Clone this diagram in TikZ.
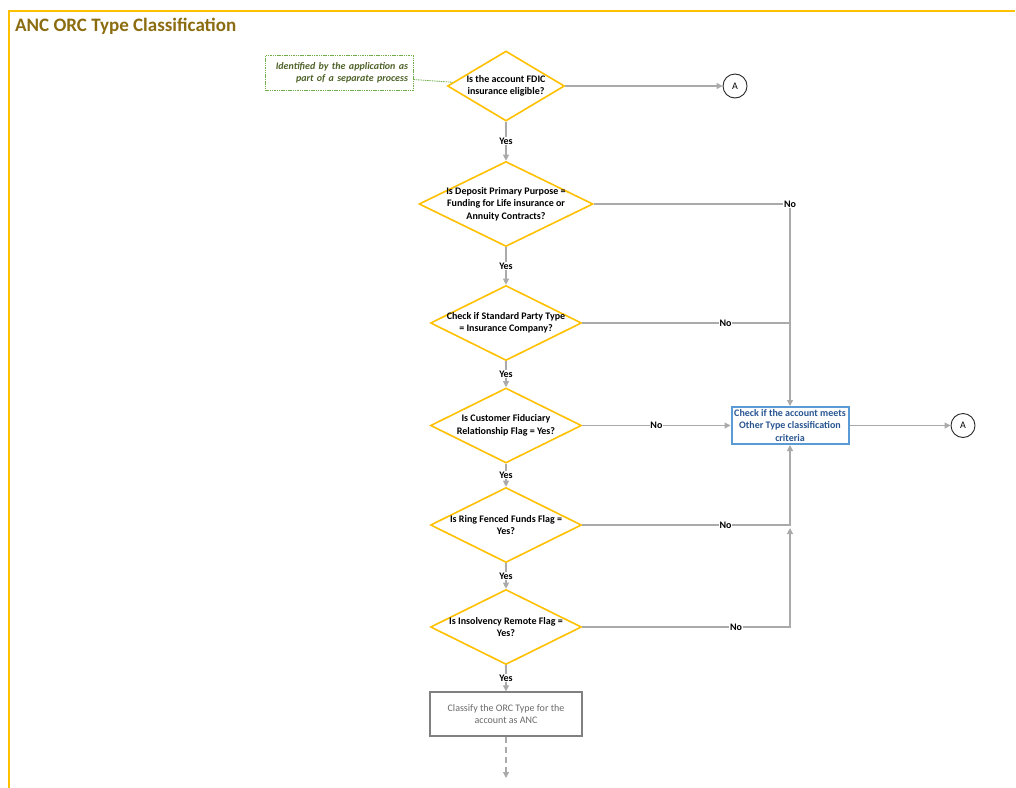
\documentclass[tikz,border=0pt]{standalone}
\usepackage{fontspec}
\setmainfont{Carlito}
\usetikzlibrary{shapes.geometric,arrows.meta,calc}

\definecolor{decyellow}{HTML}{FFC000}
\definecolor{titlegold}{RGB}{140,108,16}
\definecolor{lnkgray}{RGB}{170,170,170}
\definecolor{notegreen}{RGB}{112,173,71}
\definecolor{notetext}{RGB}{79,98,40}
\definecolor{chkborder}{RGB}{91,155,213}
\definecolor{chktext}{RGB}{40,85,145}
\definecolor{ancgray}{RGB}{128,128,128}
\definecolor{anctext}{RGB}{105,105,105}

\tikzset{
  base/.style={font=\fontsize{10}{12.4}\selectfont},
  strong/.style={font=\fontsize{10}{12.4}\selectfont\bfseries},
  dec/.style={diamond, draw=decyellow, line width=1.6pt, inner sep=0pt, fill=white},
  dtext/.style={strong, align=center, text=black},
  conn/.style={draw=lnkgray, line width=1.1pt, -{Triangle[length=6pt,width=6pt]}},
  plain/.style={draw=lnkgray, line width=1.1pt},
  lbl/.style={strong, fill=white, inner sep=0.8pt, text=black},
  conncircle/.style={circle, draw=black!85, line width=0.9pt, minimum size=24pt, inner sep=0pt, base, fill=white},
  chkbox/.style={rectangle, draw=chkborder, line width=2pt, minimum width=117pt, minimum height=37pt, inner sep=2pt, strong, align=center, text=chktext},
  ancbox/.style={rectangle, draw=ancgray, line width=1.3pt, minimum width=152pt, minimum height=44pt, inner sep=2pt, base, align=center, text=anctext},
  notebox/.style={rectangle, draw=notegreen, line width=0.8pt, dash pattern=on 1.5pt off 0.8pt, minimum width=148pt, minimum height=35pt, text width=138pt, inner xsep=5pt, align=right, font=\fontsize{10}{12.4}\selectfont\bfseries\itshape, text=notetext},
  notelink/.style={draw=notegreen, line width=0.8pt, dash pattern=on 1.5pt off 0.8pt},
  frameline/.style={draw=decyellow, line width=2pt},
  heading/.style={font=\fontsize{19}{22}\selectfont\bfseries, text=titlegold, inner sep=0pt}
}

\begin{document}
\begin{tikzpicture}[x=1pt, y=-1pt]
\useasboundingbox (0,0) rectangle (1016,787);

% page frame and heading
\draw[frameline] (9,788) -- (9,11) -- (1015,11);
\node[heading, anchor=west] (ttl) at (15,26) {ANC ORC Type Classification};

% decision chain
\node[dec, minimum width=117pt, minimum height=70pt,
      label={[dtext]center:Is the account FDIC\\insurance eligible?}] (d1) at (506,86) {};
\node[dec, minimum width=174pt, minimum height=85pt,
      label={[dtext]center:Is Deposit Primary Purpose =\\Funding for Life insurance or\\Annuity Contracts?}] (d2) at (506,204) {};
\node[dec, minimum width=151pt, minimum height=75pt,
      label={[dtext]center:Check if Standard Party Type\\= Insurance Company?}] (d3) at (506,323) {};
\node[dec, minimum width=151pt, minimum height=75pt,
      label={[dtext]center:Is Customer Fiduciary\\Relationship Flag = Yes?}] (d4) at (506,425.5) {};
\node[dec, minimum width=151pt, minimum height=75pt,
      label={[dtext]center:Is Ring Fenced Funds Flag =\\Yes?}] (d5) at (506,525) {};
\node[dec, minimum width=151pt, minimum height=75pt,
      label={[dtext]center:Is Insolvency Remote Flag =\\Yes?}] (d6) at (506,627) {};

% outcome boxes and connectors
\node[chkbox] (chk) at (790,425.5) {Check if the account meets\\Other Type classification\\criteria};
\node[ancbox] (anc) at (506,714) {Classify the ORC Type for the\\account as ANC};
\node[conncircle] (a1) at (735,86) {A};
\node[conncircle] (a2) at (963,425.5) {A};

% side note
\node[notebox] (nt) at (339,73) {Identified by the application as\\part of a separate process};
\draw[notelink] (nt.-5) -- (d1.176);

% junction points on the collector line
\coordinate (j2) at (790,204);
\coordinate (j3) at (790,323);
\coordinate (j5) at (790,525);
\coordinate (j6) at (790,627);
\coordinate (j6t) at (790,528);
\coordinate (endpt) at (506,778);

% Yes path
\draw[conn] (d1.south) -- node[lbl] (y1) {Yes} (d2.north);
\draw[conn] (d2.south) -- node[lbl] (y2) {Yes} (d3.north);
\draw[conn] (d3.south) -- node[lbl] (y3) {Yes} (d4.north);
\draw[conn] (d4.south) -- node[lbl] (y4) {Yes} (d5.north);
\draw[conn] (d5.south) -- node[lbl] (y5) {Yes} (d6.north);
\draw[conn] (d6.south) -- node[lbl] (y6) {Yes} (anc.north);
\draw[conn, dash pattern=on 6pt off 4pt] (anc.south) -- (endpt);

% No paths
\draw[conn] (d1.east) -- (a1.west);
\draw[conn] (d2.east) -- (j2) -- (chk.north);
\node[lbl] (n2) at (j2) {No};
\draw[plain] (d3.east) -- node[lbl, pos=0.69] (n3) {No} (j3);
\draw[conn] (d4.east) -- node[lbl, pos=0.5] (n4) {No} (chk.west);
\draw[conn] (d5.east) -- node[lbl, pos=0.69] (n5) {No} (j5) -- (chk.south);
\draw[conn] (d6.east) -- node[lbl, pos=0.74] (n6) {No} (j6) -- (j6t);
\draw[conn] (chk.east) -- (a2.west);
\end{tikzpicture}
\end{document}
